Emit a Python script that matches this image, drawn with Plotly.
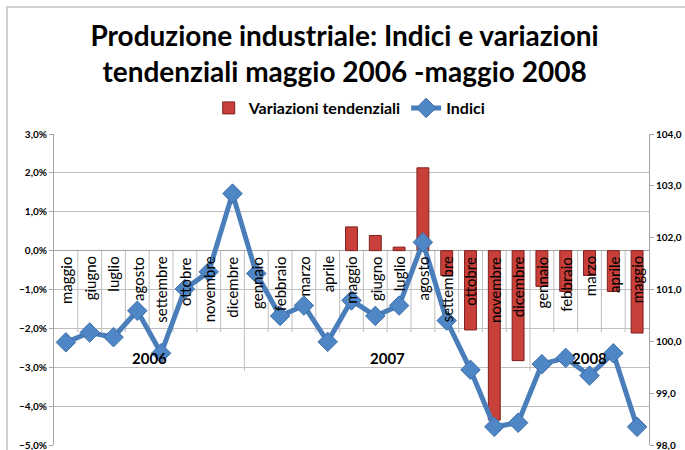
import plotly.graph_objects as go

months = ["maggio", "giugno", "luglio", "agosto", "settembre", "ottobre", "novembre", "dicembre",
          "gennaio", "febbraio", "marzo", "aprile", "maggio", "giugno", "luglio", "agosto",
          "settembre", "ottobre", "novembre", "dicembre",
          "gennaio", "febbraio", "marzo", "aprile", "maggio"]
years = ["2006", "2007", "2008"]
year_counts = [8, 12, 5]

indici = [99.98, 100.17, 100.08, 100.59, 99.77, 101.01, 101.34, 102.85,
          101.31, 100.49, 100.69, 99.99, 100.79, 100.49, 100.69, 101.91,
          100.40, 99.45, 98.35, 98.43,
          99.56, 99.68, 99.34, 99.77, 98.35]

variazioni = [None, None, None, None, None, None, None, None,
              None, None, None, None, 0.61, 0.39, 0.09, 2.13,
              -0.64, -2.04, -4.36, -2.83,
              -0.92, -1.05, -0.64, -1.05, -2.12]

x = list(range(len(months)))
FONT = "Lato"

fig = go.Figure()
fig.add_trace(go.Bar(
    x=x, y=variazioni, name="<b>Variazioni tendenziali</b>", width=0.5,
    marker=dict(color="#C9403A", line=dict(color="#7F1E1E", width=1)),
    yaxis="y",
))
fig.add_trace(go.Scatter(
    x=x, y=indici, name="<b>Indici</b>", mode="lines+markers",
    line=dict(color="#4A7EBB", width=5),
    marker=dict(symbol="diamond", size=15, color="#4F86C6", line=dict(color="#3F6FA8", width=1)),
    yaxis="y2",
))

annotations = []
for i, m in enumerate(months):
    annotations.append(dict(x=i, y=0, xref="x", yref="y", text=m, textangle=-90,
                            showarrow=False, yanchor="top", xanchor="center", yshift=-4,
                            font=dict(family=FONT, size=15, color="black")))
shapes = []
n = len(months)
start = 0
year_bounds = set()
for c in year_counts:
    start += c
    year_bounds.add(start)
for k in range(1, n):
    depth = -3.1 if k in year_bounds else -2.1
    shapes.append(dict(type="line", xref="x", yref="y", x0=k - 0.5, x1=k - 0.5, y0=0, y1=depth,
                       line=dict(color="#BFBFBF", width=1), layer="below"))
start = 0
for yl, c in zip(years, year_counts):
    center = start + (c - 1) / 2
    annotations.append(dict(x=center, y=-2.75, xref="x", yref="y", text="<b>" + yl + "</b>",
                            showarrow=False, font=dict(family=FONT, size=15, color="black")))
    start += c

shapes.append(dict(type="rect", xref="paper", yref="paper", x0=-0.079, x1=1.3, y0=-0.3, y1=1.408,
                   line=dict(color="#D0D0D0", width=2), layer="below"))

fig.update_layout(
    width=685, height=450,
    margin=dict(l=54, r=36, t=134, b=5, autoexpand=False),
    paper_bgcolor="white", plot_bgcolor="white",
    separators=",.",
    title=dict(text="<b>Produzione industriale: Indici e variazioni<br>tendenziali maggio 2006 -maggio 2008</b>",
               x=0.503, xanchor="center", y=0.898, yanchor="middle", yref="container",
               font=dict(family=FONT, size=28, color="black")),
    showlegend=True,
    legend=dict(orientation="h", x=0.497, xanchor="center", y=0.76, yanchor="middle",
                yref="container",
                font=dict(family=FONT, size=16, color="black"), bgcolor="rgba(0,0,0,0)",
                itemwidth=30),
    xaxis=dict(range=[-0.5, n - 0.5], showticklabels=False, showgrid=False, zeroline=False,
               showline=False, ticks=""),
    yaxis=dict(range=[-5, 3], dtick=1, tickformat=".1f", ticksuffix="%", showgrid=True,
               gridcolor="#BFBFBF", gridwidth=1, zeroline=True, zerolinecolor="#A6A6A6",
               zerolinewidth=1, showline=True, linecolor="#A6A6A6", ticks="outside",
               ticklen=4, tickcolor="#A6A6A6", ticklabeloverflow="allow",
               tickfont=dict(family=FONT, size=10, color="black"), tickprefix="<b>"),
    yaxis2=dict(range=[98, 104], dtick=1, tickformat=".1f", overlaying="y", side="right",
                showgrid=False, zeroline=False, showline=True, linecolor="#A6A6A6",
                ticks="outside", ticklen=4, tickcolor="#A6A6A6", ticklabeloverflow="allow",
                tickfont=dict(family=FONT, size=10, color="black"), tickprefix="<b>"),
    bargap=0.5,
    annotations=annotations, shapes=shapes,
)

fig.write_html("out.html", config={"displayModeBar": False},
               post_script="document.body.style.margin='0px';document.body.style.overflow='hidden';")
